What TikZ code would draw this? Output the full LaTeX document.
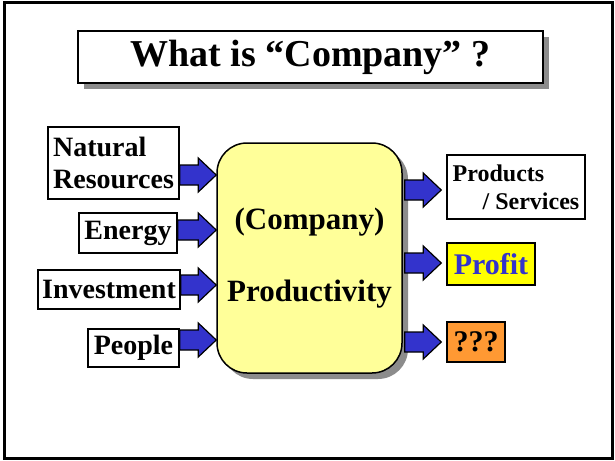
\documentclass[tikz,border=0pt]{standalone}
\usepackage{fontspec}
\setmainfont{Liberation Serif}
\usetikzlibrary{shadows,calc}
\definecolor{arrowblue}{HTML}{3333CC}
\definecolor{paleyellow}{HTML}{FFFF99}
\definecolor{brightyellow}{HTML}{FFFF00}
\definecolor{orangebox}{HTML}{FF9933}
\tikzset{
  plainbox/.style={draw=black, line width=1.5pt, fill=white, inner sep=0pt, font=\bfseries},
  shadowed/.style={drop shadow={shadow xshift=6pt, shadow yshift=-6pt, fill=black!45, opacity=1}},
  barrow/.style={draw=black, line width=1.2pt, fill=arrowblue, line join=miter},
}
\newcommand\blockarrowL[3]{%
  \draw[barrow] let \p1=(#1.east), \p2=(#2.west), \p3=(0,#3) in
    (\x1,\y3+10pt) -- (\x2-18pt,\y3+10pt) -- (\x2-18pt,\y3+17pt) -- (\x2,\y3)
    -- (\x2-18pt,\y3-17pt) -- (\x2-18pt,\y3-10pt) -- (\x1,\y3-10pt) -- cycle;}
\newcommand\blockarrowR[3]{%
  \draw[barrow] let \p1=(#1.east), \p2=(#2.west), \p3=(0,#3) in
    (\x1+2pt,\y3+10pt) -- (\x2-23pt,\y3+10pt) -- (\x2-23pt,\y3+17pt) -- (\x2-5pt,\y3)
    -- (\x2-23pt,\y3-17pt) -- (\x2-23pt,\y3-10pt) -- (\x1+2pt,\y3-10pt) -- cycle;}
\begin{document}
\begin{tikzpicture}[x=1pt,y=-1pt]
\useasboundingbox (0,0) rectangle (615,460);
\fill[white] (0,0) rectangle (615,460);
\draw[line width=3pt] (4,2.5) rectangle (612.5,458);

% title
\node[plainbox, shadowed, minimum width=465pt, minimum height=52pt,
      font=\bfseries\fontsize{38}{40}\selectfont] (title) at (310.5,57) {What is “Company” ?};

% main box
\node[plainbox, shadowed, fill=paleyellow, rounded corners=30pt,
      minimum width=185pt, minimum height=230pt, align=center,
      font=\bfseries\fontsize{31}{72}\selectfont] (main) at (309.5,258)
      {(Company)\\Productivity};

% inputs
\node[plainbox, minimum width=131pt, minimum height=72pt, align=left,
      font=\bfseries\fontsize{28}{32}\selectfont] (nat) at (113.5,163)
      {Natural\\Resources};
\node[plainbox, minimum width=98pt, minimum height=40pt,
      font=\bfseries\fontsize{28}{32}\selectfont] (energy) at (128,233) {Energy};
\node[plainbox, minimum width=142pt, minimum height=39pt,
      font=\bfseries\fontsize{28}{32}\selectfont] (invest) at (109,289.5) {Investment};
\node[plainbox, minimum width=91pt, minimum height=38pt,
      font=\bfseries\fontsize{28}{32}\selectfont] (people) at (133.5,348) {People};

% outputs
\node[plainbox, minimum width=138pt, minimum height=64pt, align=left,
      font=\bfseries\fontsize{24}{28}\selectfont] (prod) at (516,187)
      {Products\\\hspace*{30pt}/ Services};
\node[plainbox, fill=brightyellow, text=arrowblue, minimum width=88pt, minimum height=42pt,
      font=\bfseries\fontsize{30}{32}\selectfont] (profit) at (491,264) {Profit};
\node[plainbox, fill=orangebox, minimum width=58pt, minimum height=40pt,
      font=\bfseries\fontsize{30}{32}\selectfont] (qqq) at (476,342) {???};

% arrows
\blockarrowL{nat}{main}{175}
\blockarrowL{energy}{main}{230}
\blockarrowL{invest}{main}{285}
\blockarrowL{people}{main}{340}
\blockarrowR{main}{prod}{190}
\blockarrowR{main}{profit}{263}
\blockarrowR{main}{qqq}{342}
\end{tikzpicture}
\end{document}
